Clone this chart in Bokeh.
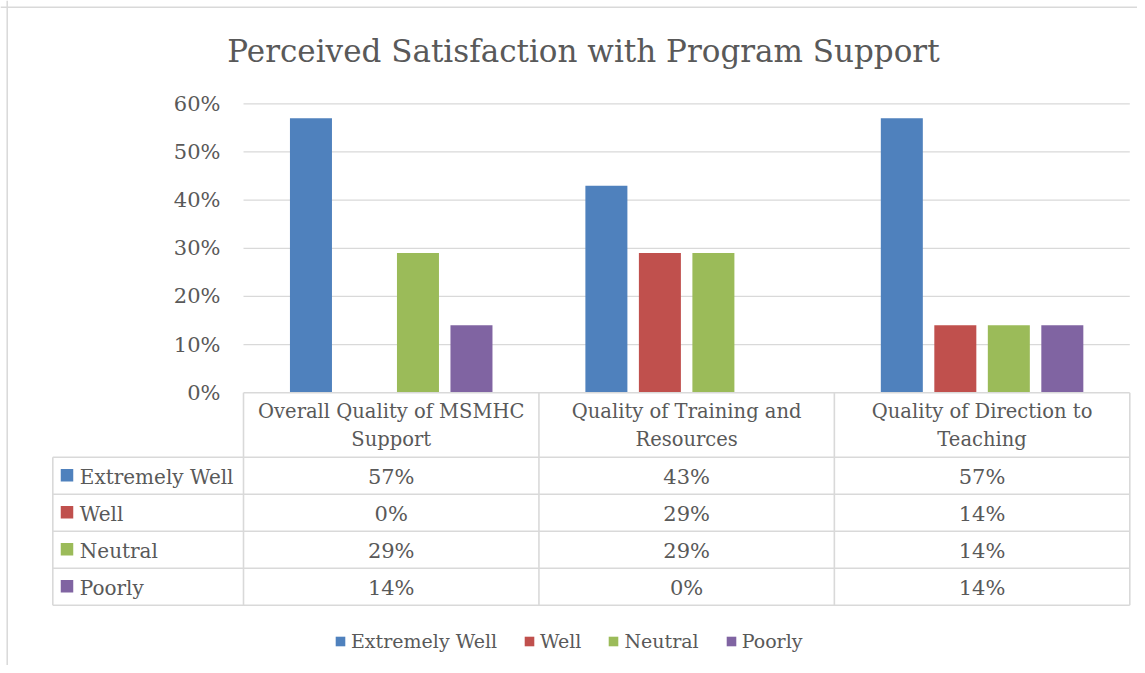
from bokeh.plotting import figure
from bokeh.models import ColumnDataSource, Range1d, Span, Legend, LegendItem
from bokeh.core.properties import value
from bokeh.embed import file_html
from bokeh.resources import INLINE

# ---------------- data ----------------
title = "Perceived Satisfaction with Program Support"
categories = ["Overall Quality of MSMHC\nSupport",
              "Quality of Training and\nResources",
              "Quality of Direction to\nTeaching"]
series = ["Extremely Well", "Well", "Neutral", "Poorly"]
extremely_well = [57, 43, 57]
well = [0, 29, 14]
neutral = [29, 29, 14]
poorly = [14, 0, 14]
y_ticks = [0, 10, 20, 30, 40, 50, 60]
y_tick_labels = ["0%", "10%", "20%", "30%", "40%", "50%", "60%"]
colors = ["#4F81BD", "#C0504D", "#9BBB59", "#8064A2"]
values = [extremely_well, well, neutral, poorly]

# ---------------- layout constants (canvas px) ----------------
W, H = 1137, 665
X0 = 243.0          # canvas x where first category starts
CAT_W = 295.43      # px per category
Y0 = 392.3          # canvas y of 0%
PPP = 4.817         # px per percentage point
BAR_W = 0.1422
STEP = 0.1811
TXT = "#595959"
LINE = "#D9D9D9"
FONT = value("DejaVu Serif")
SHIFT = 0.38        # baseline correction (em)


def ux(cx):
    return (cx - X0) / CAT_W


def vy(cy):
    return (Y0 - cy) / PPP


def vb(base, fs):
    """data y for a desired alphabetic baseline at canvas y=base"""
    return vy(base - SHIFT * fs)


p = figure(width=W, height=H,
           x_range=Range1d(ux(0), ux(W)), y_range=Range1d(vy(H), vy(0)),
           output_backend="svg", toolbar_location=None,
           x_axis_location=None, y_axis_location=None, min_border=0)
p.grid.visible = False
p.outline_line_color = None
p.background_fill_color = "white"
p.border_fill_color = "white"

# outer chart border (left and top)
p.add_layout(Span(location=ux(6.7), dimension="height", line_color=LINE, line_width=1.5))
p.add_layout(Span(location=vy(6.7), dimension="width", line_color=LINE, line_width=1.5))

# gridlines
ncat = len(categories)
grid_src = ColumnDataSource(dict(x0=[0] * (len(y_ticks) - 1), x1=[ncat] * (len(y_ticks) - 1),
                                 y=y_ticks[1:]))
p.segment(x0="x0", x1="x1", y0="y", y1="y", source=grid_src, line_color=LINE, line_width=1.3)

# y tick labels
p.text(x=[ux(220)] * len(y_ticks), y=y_ticks, text=y_tick_labels,
       text_font=FONT, text_font_size=value("21px"), text_color=TXT,
       text_align="right", text_baseline="alphabetic", y_offset=0)

# bars
renderers = []
for j, (name, vals) in enumerate(zip(series, values)):
    xs = [i + 0.5 + (j - 1.5) * STEP for i in range(ncat)]
    src = ColumnDataSource(dict(x=xs, top=vals))
    r = p.vbar(x="x", top="top", bottom=0, width=BAR_W, source=src,
               fill_color=colors[j], line_color=None)
    renderers.append(r)

# data table
HEAD_BOT = 456.7
ROW_H = 37.0
LABEL_LEFT = 52.3
nrow = len(series)
row_edges = [HEAD_BOT + ROW_H * k for k in range(nrow + 1)]
tbl_bottom = vy(row_edges[-1])

hx0, hx1, hy = [0], [ncat], [0]
for e in row_edges:
    hx0.append(ux(LABEL_LEFT)); hx1.append(ncat); hy.append(vy(e))
p.segment(x0=hx0, x1=hx1, y0=hy, y1=hy, line_color=LINE, line_width=1.6)
vx = list(range(ncat + 1)) + [ux(LABEL_LEFT)]
vy0 = [0] * (ncat + 1) + [vy(HEAD_BOT)]
vy1 = [tbl_bottom] * (ncat + 2)
p.segment(x0=vx, x1=vx, y0=vy0, y1=vy1, line_color=LINE, line_width=1.6)

# header text (category labels, two lines)
HDR_FS = 19.5
hdr_x, hdr_y, hdr_t = [], [], []
for i, cat in enumerate(categories):
    for k, line in enumerate(cat.split("\n")):
        hdr_x.append(i + 0.5)
        hdr_y.append(vb(418.3 + 28.4 * k, HDR_FS))
        hdr_t.append(line)
p.text(x=hdr_x, y=hdr_y, text=hdr_t, text_font=FONT, text_font_size=value(f"{HDR_FS}px"),
       text_color=TXT, text_align="center", text_baseline="alphabetic")

# cell values
cx, cy, ct = [], [], []
for j, vals in enumerate(values):
    for i, v in enumerate(vals):
        cx.append(i + 0.5)
        cy.append(vb(row_edges[j] + 27.6, 21))
        ct.append(f"{v}%")
p.text(x=cx, y=cy, text=ct, text_font=FONT, text_font_size=value("21px"),
       text_color=TXT, text_align="center", text_baseline="alphabetic")

# row labels with colour keys
p.text(x=[ux(79.3)] * nrow, y=[vb(e + 27.6, 20) for e in row_edges[:-1]], text=series,
       text_font=FONT, text_font_size=value("20px"), text_color=TXT,
       text_align="left", text_baseline="alphabetic")
p.scatter(x=[ux(66.5)] * nrow, y=[vy(e + 18.0) for e in row_edges[:-1]],
          marker="square", size=12.5, fill_color=colors, line_color=None)

# title
p.text(x=[ux(583)], y=[vb(62.7, 31)], text=[title], text_font=FONT,
       text_font_size=value("31px"), text_color=TXT, text_align="center",
       text_baseline="alphabetic")

# legend
legend = Legend(items=[LegendItem(label=s, renderers=[r]) for s, r in zip(series, renderers)],
                orientation="horizontal", location=(334, 13),
                glyph_width=12, glyph_height=12, label_standoff=5, spacing=26,
                padding=0, margin=0, border_line_color=None, background_fill_alpha=0,
                label_text_font="DejaVu Serif", label_text_font_size="19px",
                label_text_color=TXT, label_height=20)
p.add_layout(legend)

open("out.html", "w").write(file_html(p, INLINE))
